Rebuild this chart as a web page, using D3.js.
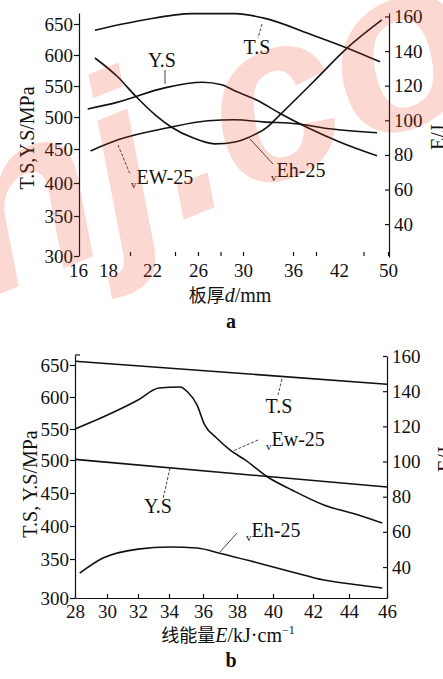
<!DOCTYPE html>
<html>
<head>
<meta charset="utf-8">
<script src="https://cdn.jsdelivr.net/npm/d3@7"></script>
<style>
body { margin: 0; background: #fff; }
svg { display: block; background: #fff; }
text, tspan { font-family: "Liberation Serif", "DejaVu Serif", serif; fill: #111; }
tspan.cjk { font-family: "Noto Sans CJK SC", "Noto Sans CJK JP", sans-serif; font-size: 18px; }
.axis text { font-size: 19px; }
.axis path, .axis line { stroke: #111; stroke-width: 1.2; }
.curve { fill: none; stroke: #111; stroke-width: 1.6; }
.leader { stroke: #111; stroke-width: 0.8; fill: none; }
.lbl { font-size: 20px; }
.ttl { font-size: 20px; }
</style>
</head>
<body>
<script>
// tick values
var strTicks = [300, 350, 400, 450, 500, 550, 600, 650];
var eTicks = [40, 60, 80, 100, 120, 140, 160];
var aTickLabels = [16, 18, 22, 26, 30, 36, 42, 50];
var aTickMarks = [20, 24, 26, 28, 30, 36, 39, 46, 50];
var bTicks = [28, 30, 32, 34, 36, 38, 40, 42, 44, 46];

// chart a : plate thickness d/mm
var aTS = [[17.1, 640], [21.1, 656], [25.5, 667], [29.3, 667], [32.4, 660], [38.6, 632], [43.4, 611], [48.7, 589]];
var aYS = [[16.6, 513], [18.9, 524], [23.1, 547], [26.4, 556], [28.1, 552], [29.3, 542], [31.7, 527], [34.4, 506], [37.8, 484], [42.1, 461], [48.2, 440]];
var aEh = [[17.1, 136], [18.9, 125], [20.5, 114], [22.3, 103], [23.7, 96], [25.5, 90], [27.5, 86.4], [29.3, 87.5], [30.8, 90.4], [32.9, 96], [34.4, 103], [38.6, 122], [43.4, 142], [49, 158]];
var aEw = [[16.8, 82.3], [18.9, 88.7], [23.4, 95.7], [26.9, 99.7], [29.3, 100.3], [32.4, 99.1], [36.5, 98], [40.8, 95.1], [48.2, 92.8]];

// chart b : heat input E/kJ.cm-1
var bTS = [[28, 656], [46, 620]];
var bYS = [[28, 501], [46, 459]];
var bEw = [[28, 118.5], [29.75, 125.3], [32, 135], [33.35, 141.8], [34.65, 142.4], [35.1, 139.5], [35.65, 132.1], [36.1, 120.8], [36.8, 113.4], [37.6, 106.5], [38.45, 100.9], [39.7, 91.2], [40.95, 83.8], [42.6, 75.3], [44.5, 69.6], [45.75, 65]];
var bEh = [[28.3, 36.6], [29.75, 45.1], [32, 50.2], [34.06, 51.4], [35.65, 50.8], [37.1, 47.6], [39.17, 42.3], [40.95, 37.2], [42.6, 32.6], [44.5, 29.8], [45.75, 28.1]];

var svg = d3.select("body").append("svg")
	.attr("width", 443)
	.attr("height", 679);

// ---- chart a scales (the printed axes are not evenly spaced)
var xA = d3.scaleLinear().domain(aTickLabels).range([79, 108, 152, 198, 243, 293, 339, 388]);
var yAL = d3.scaleLinear().domain([300, 350, 400, 450, 500, 550, 600, 650, 668]).range([256, 216, 183, 149, 117, 86, 55, 24, 13]);
var yAR = d3.scaleLinear().domain([21, 162]).range([257, 13]);

// ---- chart b scales
var xB = d3.scaleLinear().domain(bTicks).range([75, 107, 138, 169, 203, 237, 273, 313, 349, 387]);
var yBL = d3.scaleLinear().domain([300, 350, 400, 450, 500, 550, 600, 650, 666]).range([598, 559, 526, 493, 460, 429, 397, 365, 355]);
var yBR = d3.scaleLinear().domain([22.4, 160]).range([598, 356]);

function drawCurve(data, x, y) {
	var line = d3.line()
		.x(function(d) { return x(d[0]); })
		.y(function(d) { return y(d[1]); })
		.curve(d3.curveMonotoneX);
	svg.append("path").datum(data).attr("class", "curve").attr("d", line);
}

function leader(x1, y1, x2, y2, dashed) {
	var l = svg.append("line").attr("class", "leader")
		.attr("x1", x1).attr("y1", y1).attr("x2", x2).attr("y2", y2);
	if (dashed) l.attr("stroke-dasharray", "3,1.6");
}

// label with a small subscript v before E
function vLabel(x, y, rest, anchor) {
	var t = svg.append("text").attr("class", "lbl").attr("x", x).attr("y", y)
		.attr("text-anchor", anchor || "start");
	t.append("tspan").text("v").attr("font-size", 11).attr("dy", 4);
	t.append("tspan").text(rest).attr("dy", -4);
	return t;
}

// ================= chart a =================
svg.append("g").attr("class", "axis")
	.attr("transform", "translate(79,0)")
	.call(d3.axisLeft(yAL).tickValues(strTicks).tickSize(5).tickSizeOuter(0).tickPadding(1));

svg.append("g").attr("class", "axis")
	.attr("transform", "translate(389,0)")
	.call(d3.axisRight(yAR).tickValues(eTicks).tickSize(-4).tickSizeOuter(0).tickPadding(5));

var axA1 = svg.append("g").attr("class", "axis")
	.attr("transform", "translate(0,256)")
	.call(d3.axisBottom(xA).tickValues(aTickMarks).tickSize(-4).tickFormat(""));
axA1.select(".domain").remove();

var axA2 = svg.append("g").attr("class", "axis")
	.attr("transform", "translate(0,256)")
	.call(d3.axisBottom(xA).tickValues(aTickLabels).tickSize(0).tickPadding(8));
axA2.select(".domain").remove();
axA2.selectAll(".tick text").attr("dx", function(d) { return d == 16 ? -1 : 0; });

drawCurve(aTS, xA, yAL);
drawCurve(aYS, xA, yAL);
drawCurve(aEh, xA, yAR);
drawCurve(aEw, xA, yAR);

svg.append("text").attr("class", "lbl").attr("x", 162).attr("y", 67).attr("text-anchor", "middle").text("Y.S");
leader(165, 70, 165, 84);
svg.append("text").attr("class", "lbl").attr("x", 257).attr("y", 54).attr("text-anchor", "middle").text("T.S");
leader(262, 24, 258, 38, true);
vLabel(131, 184, "EW-25");
leader(118, 145, 130, 174, true);
vLabel(271, 177, "Eh-25");
leader(250, 139, 273, 164);

svg.append("text").attr("class", "ttl")
	.attr("transform", "translate(34,138) rotate(-90)")
	.attr("text-anchor", "middle").text("T.S,Y.S/MPa");
var rtA = svg.append("text").attr("class", "ttl")
	.attr("transform", "translate(445,140) rotate(-90)")
	.attr("text-anchor", "middle");
rtA.append("tspan").text("v").attr("font-size", 11).attr("dy", 4);
rtA.append("tspan").text("E/J").attr("dy", -4);

var xtA = svg.append("text").attr("class", "ttl").attr("x", 230).attr("y", 302).attr("text-anchor", "middle");
xtA.append("tspan").attr("class", "cjk").text("板厚");
xtA.append("tspan").text("d").attr("font-style", "italic");
xtA.append("tspan").text("/mm");

svg.append("text").attr("x", 231).attr("y", 328).attr("text-anchor", "middle")
	.attr("font-size", 20).attr("font-weight", "bold").text("a");

// ================= chart b =================
svg.append("g").attr("class", "axis")
	.attr("transform", "translate(75,0)")
	.call(d3.axisLeft(yBL).tickValues(strTicks).tickSize(5).tickSizeOuter(0).tickPadding(1));

svg.append("g").attr("class", "axis")
	.attr("transform", "translate(387,0)")
	.call(d3.axisRight(yBR).tickValues(eTicks).tickSize(-4).tickSizeOuter(0).tickPadding(5));

svg.append("g").attr("class", "axis")
	.attr("transform", "translate(0,598)")
	.call(d3.axisBottom(xB).tickValues(bTicks).tickSize(-4).tickSizeOuter(0).tickPadding(7));

// small cap at the top of the left axis
svg.append("line").attr("class", "leader").style("stroke-width", 1.2)
	.attr("x1", 75).attr("x2", 80).attr("y1", yBL(666)).attr("y2", yBL(666));

drawCurve(bTS, xB, yBL);
drawCurve(bYS, xB, yBL);
drawCurve(bEw, xB, yBR);
drawCurve(bEh, xB, yBR);

svg.append("text").attr("class", "lbl").attr("x", 279).attr("y", 413).attr("text-anchor", "middle").text("T.S");
leader(282, 379, 278, 395, true);
vLabel(266, 446, "Ew-25");
leader(258, 440, 233, 451, true);
svg.append("text").attr("class", "lbl").attr("x", 158).attr("y", 513).attr("text-anchor", "middle").text("Y.S");
leader(170, 468, 163, 499, true);
vLabel(246, 537, "Eh-25");
leader(220, 552, 237, 533);

svg.append("text").attr("class", "ttl")
	.attr("transform", "translate(37,484) rotate(-90)")
	.attr("text-anchor", "middle").text("T.S, Y.S/MPa");
var rtB = svg.append("text").attr("class", "ttl")
	.attr("transform", "translate(452,462) rotate(-90)")
	.attr("text-anchor", "middle");
rtB.append("tspan").text("v").attr("font-size", 11).attr("dy", 4);
rtB.append("tspan").text("E/J").attr("dy", -4);

var xtB = svg.append("text").attr("class", "ttl").attr("x", 228).attr("y", 642).attr("text-anchor", "middle");
xtB.append("tspan").attr("class", "cjk").text("线能量");
xtB.append("tspan").text("E").attr("font-style", "italic");
xtB.append("tspan").text("/kJ·cm");
xtB.append("tspan").text("−1").attr("font-size", 12).attr("dy", -8);

svg.append("text").attr("x", 231).attr("y", 667).attr("text-anchor", "middle")
	.attr("font-size", 20).attr("font-weight", "bold").text("b");

// pale watermark lying over chart a
svg.append("text")
	.attr("transform", "translate(-15,300) rotate(-22)")
	.style("font-family", "'Liberation Sans', Arial, sans-serif")
	.style("font-size", "235px")
	.style("font-style", "italic")
	.style("font-weight", "bold")
	.style("fill", "#f03c1e")
	.style("fill-opacity", 0.2)
	.text("nj.co");
</script>
</body>
</html>
